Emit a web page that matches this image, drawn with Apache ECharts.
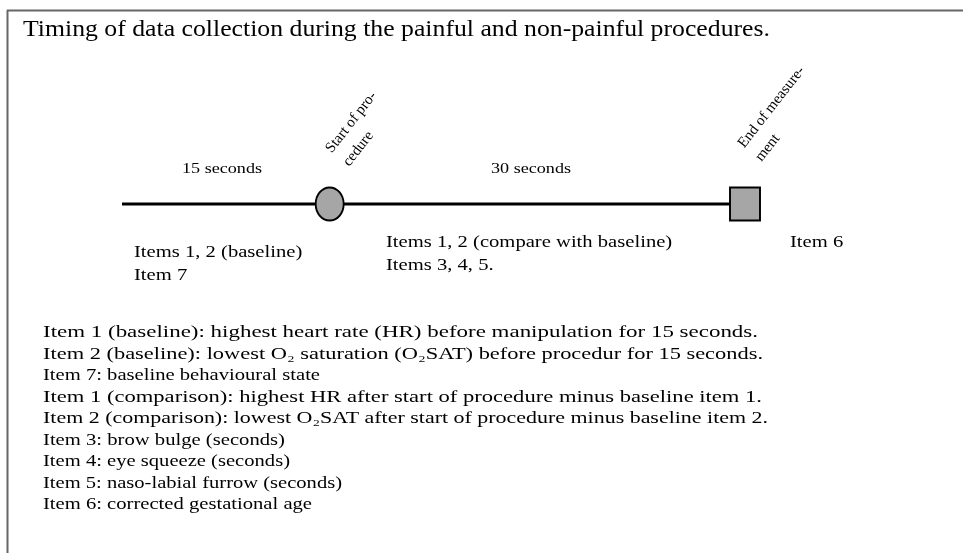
<!DOCTYPE html>
<html>
<head>
<meta charset="utf-8">
<style>
  html, body { margin: 0; padding: 0; background: #fff; }
  #chart { width: 963px; height: 553px; }
</style>
<script src="https://cdn.jsdelivr.net/npm/echarts@6/dist/echarts.min.js"></script>
</head>
<body>
<div id="chart"></div>
<script>
(function() {
  // --- data ---
  var title = 'Timing of data collection during the painful and non-painful procedures.';
  var timelineEdges = [0, 45];                 // seconds
  var eventTimes = [15, 45];
  var eventNames = ['Start of pro-\ncedure', 'End of measure-\nment'];
  var eventSymbols = ['circle', 'rect'];
  var intervalLabels = ['15 seconds', '30 seconds'];
  var phaseNotes = [
    ['Items 1, 2 (baseline)', 'Item 7'],
    ['Items 1, 2 (compare with baseline)', 'Items 3, 4, 5.'],
    ['Item 6']
  ];
  var legendLines = [
    'Item 1 (baseline): highest heart rate (HR) before manipulation for 15 seconds.',
    'Item 2 (baseline): lowest O\u2082 saturation (O\u2082SAT) before procedur for 15 seconds.',
    'Item 7: baseline behavioural state',
    'Item 1 (comparison): highest HR after start of procedure minus baseline item 1.',
    'Item 2 (comparison): lowest O\u2082SAT after start of procedure minus baseline item 2.',
    'Item 3: brow bulge (seconds)',
    'Item 4: eye squeeze (seconds)',
    'Item 5: naso-labial furrow (seconds)',
    'Item 6: corrected gestational age'
  ];

  // --- layout ---
  var SERIF = '"Liberation Serif", "Times New Roman", serif';
  var BODY_FONT = '17px ' + SERIF;
  var SMALL_FONT = '14px ' + SERIF;
  var TITLE_FONT = '23px ' + SERIF;
  // right edge of each legend line in the scan (long lines run wider than Times)
  var legendRight = [758, 763, 320, 762, 768, 285, 290, 342, 312];

  var ctx = document.createElement('canvas').getContext('2d');
  function textWidth(s, font) { ctx.font = font; return ctx.measureText(s).width; }
  var sx = 269 / textWidth(legendLines[8], BODY_FONT);
  var sxSmall = 80 / textWidth(intervalLabels[0], SMALL_FONT);
  var sxTitle = 747 / textWidth(title, TITLE_FONT);

  function txt(s, x, y, font, scale) {
    return {
      type: 'text', x: x, y: y, scaleX: scale, silent: true,
      style: { text: s, font: font, fill: '#000', verticalAlign: 'middle' }
    };
  }

  var graphics = [
    { type: 'line', shape: { x1: 7, y1: 10.5, x2: 963, y2: 10.5 }, style: { stroke: '#666', lineWidth: 2 } },
    { type: 'line', shape: { x1: 7.5, y1: 10, x2: 7.5, y2: 553 }, style: { stroke: '#666', lineWidth: 2 } },
    txt(title, 23, 30, TITLE_FONT, sxTitle)
  ];

  var intervalX = [182, 491];
  intervalLabels.forEach(function(s, i) {
    graphics.push(txt(s, intervalX[i], 169, SMALL_FONT, sxSmall));
  });

  var noteX = [134, 386, 790];
  var noteY = [253, 243, 243];
  phaseNotes.forEach(function(lines, i) {
    lines.forEach(function(s, j) {
      graphics.push(txt(s, noteX[i], noteY[i] + j * 23, BODY_FONT, sx));
    });
  });

  legendLines.forEach(function(s, i) {
    var scale = (legendRight[i] - 43) / textWidth(s, BODY_FONT);
    graphics.push(txt(s, 43, 333 + i * 21.5, BODY_FONT, scale));
  });

  var labelPos = [[40, -15], [38, -20]];
  var symbolSizes = [[28, 33], [30, 33]];

  var chart = echarts.init(document.getElementById('chart'), null, { renderer: 'canvas' });
  chart.setOption({
    animation: false,
    backgroundColor: '#fff',
    grid: { left: 122, right: 218, top: 194, height: 20 },
    xAxis: { type: 'value', min: timelineEdges[0], max: timelineEdges[1], show: false },
    yAxis: { type: 'value', min: 0, max: 1, show: false },
    graphic: graphics,
    series: [
      {
        type: 'line',
        data: timelineEdges.map(function(t) { return [t, 0.5]; }),
        symbol: 'none',
        lineStyle: { color: '#000', width: 3, cap: 'butt' },
        z: 1
      },
      {
        type: 'scatter',
        z: 2,
        data: eventTimes.map(function(t, i) {
          return {
            value: [t, 0.5],
            symbol: eventSymbols[i],
            symbolSize: symbolSizes[i],
            label: {
              show: true,
              formatter: eventNames[i],
              position: labelPos[i],
              rotate: 52,
              align: 'left',
              verticalAlign: 'bottom',
              fontFamily: 'Liberation Serif',
              fontSize: 15,
              lineHeight: 22,
              color: '#000'
            }
          };
        }),
        itemStyle: { color: '#a6a6a6', borderColor: '#000', borderWidth: 2, opacity: 1 }
      }
    ]
  });
  window.addEventListener('resize', function() { chart.resize(); });
})();
</script>
</body>
</html>
